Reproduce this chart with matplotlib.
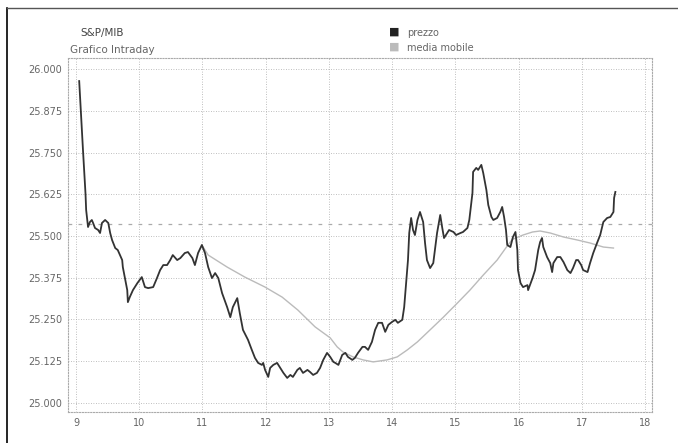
import matplotlib
matplotlib.use("Agg")
import matplotlib.pyplot as plt
from matplotlib.ticker import FuncFormatter

# ore (decimali) e prezzo dell'indice
ore = [9.05, 9.11, 9.15, 9.16, 9.19, 9.22, 9.25, 9.27, 9.30, 9.35, 9.38, 9.41,
       9.46, 9.51, 9.54, 9.57, 9.62, 9.66, 9.73, 9.74, 9.78, 9.81, 9.82, 9.85,
       9.90, 9.97, 10.04, 10.09, 10.14, 10.22, 10.28, 10.33, 10.38, 10.44, 10.49,
       10.53, 10.60, 10.65, 10.72, 10.77, 10.84, 10.88, 10.93, 10.99, 11.04,
       11.09, 11.15, 11.20, 11.25, 11.31, 11.39, 11.44, 11.48, 11.55, 11.59,
       11.64, 11.72, 11.78, 11.83, 11.88, 11.94, 11.96, 11.99, 12.04, 12.07,
       12.12, 12.18, 12.23, 12.28, 12.34, 12.39, 12.43, 12.50, 12.54, 12.59,
       12.66, 12.70, 12.75, 12.81, 12.86, 12.91, 12.97, 13.02, 13.07, 13.10,
       13.15, 13.21, 13.26, 13.30, 13.37, 13.41, 13.46, 13.53, 13.57, 13.62,
       13.68, 13.73, 13.78, 13.84, 13.89, 13.94, 14.00, 14.05, 14.09, 14.16,
       14.19, 14.22, 14.25, 14.27, 14.30, 14.33, 14.36, 14.40, 14.44, 14.49,
       14.52, 14.55, 14.60, 14.65, 14.68, 14.71, 14.76, 14.79, 14.82, 14.87,
       14.90, 14.97, 15.01, 15.08, 15.12, 15.19, 15.22, 15.27, 15.28, 15.33,
       15.36, 15.41, 15.44, 15.49, 15.52, 15.57, 15.60, 15.66, 15.71, 15.74,
       15.77, 15.80, 15.82, 15.87, 15.91, 15.95, 15.98, 15.99, 16.03, 16.07,
       16.14, 16.15, 16.22, 16.26, 16.31, 16.34, 16.37, 16.39, 16.45, 16.50,
       16.53, 16.55, 16.61, 16.66, 16.71, 16.77, 16.82, 16.86, 16.91, 16.94,
       16.99, 17.02, 17.09, 17.13, 17.18, 17.24, 17.29, 17.34, 17.40, 17.45,
       17.50, 17.51, 17.53]
prezzo = [25964, 25757, 25626, 25578, 25527, 25542, 25548, 25539, 25524, 25518,
          25509, 25539, 25548, 25539, 25509, 25488, 25464, 25458, 25428, 25407,
          25368, 25338, 25302, 25317, 25338, 25359, 25377, 25347, 25344, 25347,
          25374, 25398, 25413, 25413, 25428, 25443, 25428, 25434, 25449, 25452,
          25434, 25413, 25449, 25473, 25449, 25407, 25374, 25389, 25374, 25329,
          25287, 25257, 25287, 25314, 25269, 25219, 25189, 25159, 25135, 25120,
          25114, 25120, 25099, 25078, 25105, 25114, 25120, 25105, 25090, 25075,
          25084, 25078, 25099, 25105, 25090, 25099, 25093, 25084, 25090, 25105,
          25129, 25150, 25138, 25123, 25120, 25114, 25144, 25150, 25138, 25129,
          25135, 25150, 25168, 25168, 25159, 25183, 25219, 25240, 25240, 25213,
          25234, 25243, 25249, 25240, 25249, 25287, 25359, 25428, 25509, 25554,
          25518, 25503, 25548, 25572, 25542, 25479, 25428, 25404, 25419, 25464,
          25509, 25563, 25527, 25494, 25509, 25518, 25512, 25503, 25509, 25512,
          25524, 25548, 25629, 25692, 25704, 25698, 25713, 25689, 25638, 25593,
          25557, 25548, 25554, 25572, 25587, 25557, 25518, 25473, 25467, 25497,
          25512, 25458, 25398, 25359, 25347, 25353, 25338, 25374, 25398, 25458,
          25482, 25494, 25467, 25437, 25419, 25392, 25419, 25437, 25437, 25422,
          25398, 25389, 25404, 25428, 25428, 25413, 25398, 25392, 25419, 25449,
          25479, 25503, 25542, 25554, 25557, 25572, 25614, 25632]

ore_media = [10.99, 11.09, 11.39, 11.67, 11.99, 12.26, 12.51, 12.78, 13.02,
             13.13, 13.22, 13.38, 13.54, 13.70, 13.92, 14.08, 14.24, 14.40,
             14.60, 14.81, 15.03, 15.23, 15.44, 15.66, 15.80, 15.90, 16.07,
             16.22, 16.34, 16.50, 16.71, 16.93, 17.13, 17.34, 17.50]
media_mobile = [25473, 25443, 25407, 25377, 25347, 25317, 25278, 25228, 25195,
                25168, 25153, 25138, 25129, 25123, 25129, 25138, 25159, 25183,
                25219, 25257, 25299, 25338, 25383, 25428, 25465, 25490, 25503,
                25512, 25515, 25509, 25497, 25488, 25479, 25467, 25464]

chiusura_prec = 25535
y_ticks = [25000, 25125, 25250, 25375, 25500, 25625, 25750, 25875, 26000]
x_ticks = list(range(9, 19))

grigio = "#666666"
fig = plt.figure(figsize=(6.78, 4.43), dpi=100)
ax = fig.add_axes([0.1003, 0.070, 0.8614, 0.799])

ax.axhline(chiusura_prec, color="#aaaaaa", lw=0.9, ls=(0, (3, 5)), zorder=2)
ax.plot(ore_media, media_mobile, color="#bbbbbb", lw=1.0, zorder=3)
ax.plot(ore, prezzo, color="#333333", lw=1.3, zorder=4)

ax.set_xlim(8.873, 18.11)
ax.set_ylim(24973, 26033)
ax.set_xticks(x_ticks)
ax.set_yticks(y_ticks)
ax.yaxis.set_major_formatter(FuncFormatter(lambda v, p: f"{v:,.0f}".replace(",", ".")))
ax.tick_params(length=0, labelsize=7, colors=grigio, pad=4)
ax.grid(True, color="#aaaaaa", ls=(0, (1, 2)), lw=0.6)
for s in ax.spines.values():
    s.set_linestyle((0, (1, 1.5)))
    s.set_color("#aaaaaa")
    s.set_linewidth(0.8)

fig.text(0.119, 0.918, "S&P/MIB", fontsize=7.5, color="#444444")
fig.text(0.103, 0.881, "Grafico Intraday", fontsize=7.5, color=grigio)
fig.text(0.573, 0.917, "■", fontsize=8, color="#222222", va="bottom")
fig.text(0.573, 0.884, "■", fontsize=8, color="#bbbbbb", va="bottom")
fig.text(0.600, 0.918, "prezzo", fontsize=7, color=grigio)
fig.text(0.600, 0.885, "media mobile", fontsize=7, color=grigio)

# bordo esterno (solo sinistra e alto, come nello screenshot)
fig.add_artist(plt.Line2D([0.0103, 0.0103], [0, 0.982], color="black", lw=1.2,
                          transform=fig.transFigure))
fig.add_artist(plt.Line2D([0.0103, 1], [0.982, 0.982], color="#555555", lw=1.0,
                          transform=fig.transFigure))

fig.savefig("out.png", dpi=100, facecolor="white")
